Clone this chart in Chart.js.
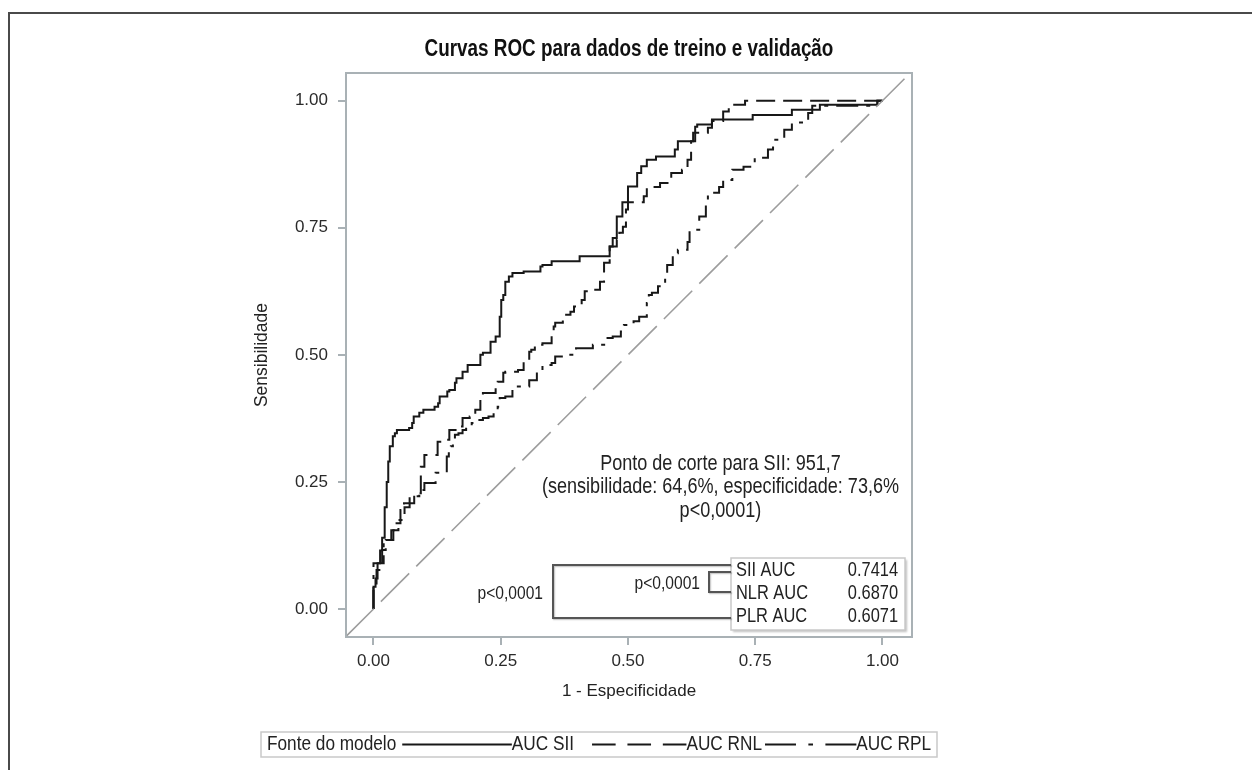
<!DOCTYPE html>
<html><head><meta charset="utf-8">
<script src="https://cdn.jsdelivr.net/npm/chart.js@4.4.1/dist/chart.umd.min.js"></script>
<style>html,body{margin:0;padding:0;background:#fff;}canvas{display:block;}</style>
</head><body>
<canvas id="c" width="1252" height="770"></canvas>
<script>
// ---------- data ----------
const titleText = 'Curvas ROC para dados de treino e validação';
const xAxisTitle = '1 - Especificidade';
const yAxisTitle = 'Sensibilidade';
const tickValues = [0, 0.25, 0.5, 0.75, 1];
const tickLabels = ['0.00', '0.25', '0.50', '0.75', '1.00'];

// SII (solid) – corners of the empirical ROC staircase
const siiFpr = [0.000,0.004,0.008,0.013,0.017,0.022,0.026,0.029,0.032,0.038,0.042,0.046,0.070,0.076,0.079,0.090,0.098,0.120,0.127,0.130,0.145,0.149,0.160,0.163,0.175,0.185,0.210,0.215,0.230,0.240,0.248,0.251,0.255,0.259,0.266,0.273,0.295,0.328,0.332,0.350,0.354,0.405,0.409,0.464,0.470,0.478,0.489,0.500,0.518,0.526,0.537,0.555,0.592,0.598,0.632,0.636,0.665,0.745,0.822,0.877,0.990,1.000];
const siiTpr = [0.000,0.044,0.060,0.090,0.115,0.140,0.200,0.250,0.290,0.320,0.340,0.346,0.352,0.356,0.366,0.379,0.386,0.392,0.398,0.405,0.418,0.428,0.431,0.445,0.454,0.467,0.480,0.500,0.504,0.526,0.536,0.575,0.608,0.618,0.644,0.654,0.661,0.664,0.674,0.677,0.684,0.684,0.694,0.694,0.713,0.730,0.772,0.800,0.831,0.858,0.871,0.884,0.890,0.904,0.920,0.949,0.953,0.963,0.972,0.982,0.992,1.000];

// NLR (dashed)
const nlrFpr = [0.000,0.006,0.017,0.024,0.035,0.042,0.053,0.060,0.080,0.093,0.100,0.126,0.134,0.149,0.171,0.175,0.189,0.200,0.210,0.215,0.240,0.244,0.255,0.259,0.284,0.295,0.306,0.310,0.317,0.332,0.350,0.354,0.357,0.372,0.387,0.394,0.409,0.415,0.423,0.445,0.453,0.464,0.478,0.483,0.490,0.496,0.500,0.510,0.531,0.537,0.563,0.585,0.595,0.606,0.617,0.624,0.628,0.636,0.657,0.665,0.687,0.698,0.709,0.730,0.734,1.000];
const nlrTpr = [0.000,0.050,0.077,0.116,0.136,0.155,0.169,0.195,0.208,0.228,0.280,0.303,0.329,0.333,0.352,0.359,0.376,0.379,0.392,0.415,0.425,0.438,0.447,0.465,0.467,0.470,0.490,0.506,0.510,0.520,0.523,0.539,0.556,0.563,0.579,0.585,0.595,0.608,0.625,0.628,0.644,0.681,0.713,0.726,0.740,0.752,0.786,0.800,0.800,0.812,0.830,0.838,0.858,0.858,0.864,0.884,0.920,0.937,0.937,0.947,0.960,0.979,0.992,0.992,1.000,1.000];

// PLR (dash-dot)
const plrFpr = [0.000,0.020,0.039,0.049,0.061,0.071,0.090,0.100,0.122,0.144,0.148,0.152,0.156,0.160,0.167,0.175,0.182,0.193,0.204,0.215,0.226,0.236,0.244,0.248,0.259,0.273,0.277,0.306,0.321,0.332,0.350,0.357,0.368,0.376,0.398,0.409,0.431,0.445,0.456,0.470,0.486,0.492,0.511,0.522,0.537,0.541,0.547,0.559,0.573,0.577,0.588,0.598,0.617,0.621,0.640,0.653,0.657,0.679,0.687,0.705,0.727,0.749,0.775,0.785,0.807,0.822,0.854,0.862,0.870,0.990,1.000];
const plrTpr = [0.000,0.090,0.136,0.155,0.175,0.200,0.222,0.234,0.248,0.268,0.300,0.313,0.320,0.333,0.343,0.346,0.352,0.359,0.366,0.372,0.376,0.379,0.386,0.398,0.415,0.418,0.431,0.438,0.450,0.470,0.480,0.484,0.497,0.497,0.500,0.513,0.513,0.520,0.520,0.533,0.536,0.546,0.559,0.566,0.575,0.602,0.618,0.622,0.635,0.654,0.677,0.700,0.707,0.722,0.746,0.772,0.805,0.819,0.830,0.844,0.864,0.870,0.888,0.904,0.923,0.943,0.957,0.976,0.990,0.990,1.000];

// chance diagonal (spans the whole frame)
const diagX = [-0.055, 1.06];
const diagY = [-0.055, 1.06];

const cutoffLines = ['Ponto de corte para SII: 951,7', '(sensibilidade: 64,6%, especificidade: 73,6%', 'p<0,0001)'];
const aucNames = ['SII AUC', 'NLR AUC', 'PLR AUC'];
const aucValues = ['0.7414', '0.6870', '0.6071'];
const pairPValues = ['p<0,0001', 'p<0,0001'];
const legendTitle = 'Fonte do modelo';
const legendLabels = ['AUC SII', 'AUC RNL', 'AUC RPL'];

// ---------- styles ----------
const SANS = '"Liberation Sans", Arial, Helvetica, sans-serif';
const CURVE = '#181818';
const DASHES = [[], [19, 8], [22, 8, 4, 8]];

function hasFont(name) {
  const c = document.createElement('canvas').getContext('2d');
  const s = 'abcdefghijklmnop WWW 0123';
  c.font = '40px monospace'; const a = c.measureText(s).width;
  c.font = '40px "' + name + '", monospace'; const b = c.measureText(s).width;
  return Math.abs(a - b) > 0.5;
}
const NARROW_OK = hasFont('Liberation Sans Narrow');
function setNarrow(ctx, size, bold) {
  const w = bold ? 'bold ' : '';
  ctx.font = NARROW_OK ? (w + size + 'px "Liberation Sans Narrow"') : (w + size + 'px ' + SANS);
}
function narrowWidth(ctx, text, size, bold) {
  ctx.save(); setNarrow(ctx, size, bold);
  const w = ctx.measureText(text).width * (NARROW_OK ? 1 : 0.82);
  ctx.restore(); return w;
}
function narrowText(ctx, text, x, y, size, o) {
  o = o || {};
  ctx.save();
  setNarrow(ctx, size, o.bold);
  ctx.fillStyle = o.color || '#1a1a1a';
  ctx.textBaseline = 'middle';
  ctx.textAlign = o.align || 'left';
  ctx.translate(x, y);
  if (!NARROW_OK) ctx.scale(0.82, 1);
  ctx.fillText(text, 0, 0);
  ctx.restore();
}
function pts(xs, ys) { return xs.map((x, i) => ({ x: x, y: ys[i] })); }

const decor = {
  id: 'decor',
  beforeDraw(chart) {
    const ctx = chart.ctx;
    ctx.save();
    ctx.fillStyle = '#fff'; ctx.fillRect(0, 0, chart.width, chart.height);
    ctx.strokeStyle = '#4a4a4a'; ctx.lineWidth = 2;
    ctx.beginPath(); ctx.moveTo(9, chart.height); ctx.lineTo(9, 13); ctx.lineTo(chart.width, 13); ctx.stroke();
    ctx.restore();
  },
  afterDraw(chart) {
    const ctx = chart.ctx, a = chart.chartArea;
    // plot frame
    ctx.save();
    ctx.strokeStyle = '#a9b1b5'; ctx.lineWidth = 2;
    ctx.strokeRect(a.left, a.top, a.right - a.left, a.bottom - a.top);
    ctx.restore();
    // title
    narrowText(ctx, titleText, (a.left + a.right) / 2, 50, 23, { bold: true, align: 'center', color: '#111' });
    // cutoff annotation
    const cx = a.right - 191.5;
    cutoffLines.forEach((t, i) => narrowText(ctx, t, cx, a.bottom - 173.5 + i * 23.5, 22, { align: 'center', color: '#222' }));
    // AUC inset box
    const bx = a.right - 181, by = a.bottom - 79, bw = 174, bh = 72;
    ctx.save();
    ctx.shadowColor = 'rgba(0,0,0,0.25)'; ctx.shadowOffsetX = 1.5; ctx.shadowOffsetY = 1.5; ctx.shadowBlur = 2;
    ctx.fillStyle = '#fff'; ctx.fillRect(bx, by, bw, bh);
    ctx.restore();
    ctx.save(); ctx.strokeStyle = '#c9c9c9'; ctx.lineWidth = 1.5; ctx.strokeRect(bx, by, bw, bh); ctx.restore();
    const rowY = [by + 12, by + 35, by + 58];
    aucNames.forEach((t, i) => {
      narrowText(ctx, t, bx + 5, rowY[i], 20, { color: '#222' });
      narrowText(ctx, aucValues[i], bx + bw - 7, rowY[i], 20, { align: 'right', color: '#222' });
    });
    // comparison brackets
    ctx.save();
    ctx.strokeStyle = '#555'; ctx.lineWidth = 2;
    ctx.shadowColor = 'rgba(0,0,0,0.25)'; ctx.shadowOffsetX = 1; ctx.shadowOffsetY = 1; ctx.shadowBlur = 1.5;
    ctx.beginPath();
    ctx.moveTo(bx, rowY[0] - 5); ctx.lineTo(bx - 178, rowY[0] - 5); ctx.lineTo(bx - 178, rowY[2] + 2); ctx.lineTo(bx, rowY[2] + 2);
    ctx.stroke();
    ctx.beginPath();
    ctx.moveTo(bx, rowY[0] + 2); ctx.lineTo(bx - 22, rowY[0] + 2); ctx.lineTo(bx - 22, rowY[1] - 1); ctx.lineTo(bx, rowY[1] - 1);
    ctx.stroke();
    ctx.restore();
    narrowText(ctx, pairPValues[0], bx - 188, rowY[1] + 0.5, 19, { align: 'right', color: '#222' });
    narrowText(ctx, pairPValues[1], bx - 31, rowY[0] + 14, 19, { align: 'right', color: '#222' });

    // legend: box spans from below the y-axis title to just past the frame
    const lx0 = a.left - 85, lx1 = a.right + 25, ly = 744.5, ls = 21;
    ctx.save(); ctx.strokeStyle = '#c9c9c9'; ctx.lineWidth = 1.5; ctx.strokeRect(lx0, ly - 12.5, lx1 - lx0, 25); ctx.restore();
    const pad = 6, gaps = [6, 18, 3], ratios = [10.8, 9.3, 9.0];
    const tw = [legendTitle].concat(legendLabels).map(t => narrowWidth(ctx, t, ls));
    const free = (lx1 - lx0) - 2 * pad - tw.reduce((s, v) => s + v, 0) - gaps.reduce((s, v) => s + v, 0);
    const rsum = ratios.reduce((s, v) => s + v, 0);
    const sw = ratios.map(r => free * r / rsum);
    const patterns = [[], [sw[1] / 4, sw[1] / 8], [sw[2] / 2.95, sw[2] * 0.4 / 2.95, sw[2] * 0.15 / 2.95, sw[2] * 0.4 / 2.95]];
    let x = lx0 + pad;
    narrowText(ctx, legendTitle, x, ly, ls, { color: '#222' }); x += tw[0];
    for (let i = 0; i < 3; i++) {
      x += gaps[i];
      ctx.save(); ctx.strokeStyle = CURVE; ctx.lineWidth = 2; ctx.setLineDash(patterns[i]);
      ctx.beginPath(); ctx.moveTo(x, ly); ctx.lineTo(x + sw[i], ly); ctx.stroke(); ctx.restore();
      x += sw[i];
      narrowText(ctx, legendLabels[i], x, ly, ls, { color: '#222' }); x += tw[i + 1];
    }
  }
};

const fixTicks = s => { s.ticks = tickValues.map(v => ({ value: v })); };
const tickCb = function (v) { const i = tickValues.indexOf(v); return i >= 0 ? tickLabels[i] : ''; };

new Chart(document.getElementById('c'), {
  type: 'line',
  data: {
    datasets: [
      { label: 'ref', data: pts(diagX, diagY), borderColor: '#9d9d9d', borderWidth: 1.6, borderDash: [40, 10], pointRadius: 0 },
      { label: legendLabels[0], data: pts(siiFpr, siiTpr), stepped: 'after', borderColor: CURVE, borderWidth: 2, borderDash: DASHES[0], pointRadius: 0 },
      { label: legendLabels[1], data: pts(nlrFpr, nlrTpr), stepped: 'after', borderColor: CURVE, borderWidth: 2, borderDash: DASHES[1], pointRadius: 0 },
      { label: legendLabels[2], data: pts(plrFpr, plrTpr), stepped: 'after', borderColor: CURVE, borderWidth: 2, borderDash: DASHES[2], pointRadius: 0 }
    ]
  },
  options: {
    responsive: false, animation: false, devicePixelRatio: 1,
    layout: { padding: { left: 246, right: 340, top: 73, bottom: 63 } },
    plugins: { legend: { display: false }, tooltip: { enabled: false }, title: { display: false } },
    scales: {
      x: {
        type: 'linear', min: -0.054, max: 1.058,
        afterBuildTicks: fixTicks,
        afterFit: s => { s.height = 70; },
        ticks: { callback: tickCb, font: { family: SANS, size: 17 }, color: '#2a2a2a', padding: 6.5, maxRotation: 0 },
        grid: { drawOnChartArea: false, tickLength: 8, color: '#a9b1b5', lineWidth: 2 },
        border: { display: false },
        title: { display: true, text: xAxisTitle, font: { family: SANS, size: 17 }, color: '#222', padding: { top: 0, bottom: 5.8 } }
      },
      y: {
        type: 'linear', min: -0.055, max: 1.0545,
        afterBuildTicks: fixTicks,
        afterFit: s => { s.width = 100; },
        ticks: { callback: tickCb, font: { family: SANS, size: 17 }, color: '#2a2a2a', padding: 10 },
        grid: { drawOnChartArea: false, tickLength: 8, color: '#a9b1b5', lineWidth: 2 },
        border: { display: false },
        title: { display: true, text: yAxisTitle, font: { family: SANS, size: 17.5 }, color: '#222', padding: { top: 5.5, bottom: 0 } }
      }
    }
  },
  plugins: [decor]
});
</script>
</body></html>
